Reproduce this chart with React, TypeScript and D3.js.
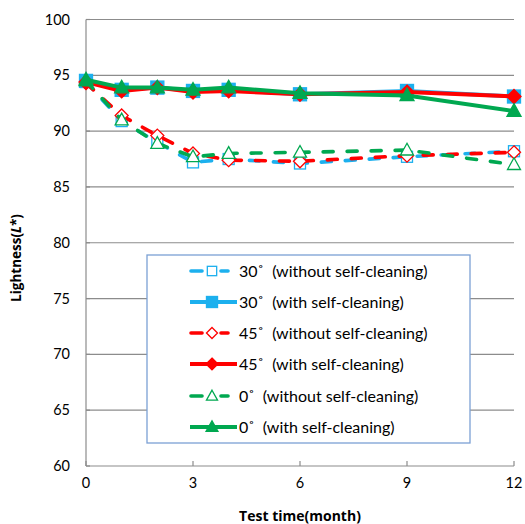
import React from "react";
import * as d3 from "d3";

const months = [0, 1, 2, 3, 4, 6, 9, 12];
const xTicks = [0, 3, 6, 9, 12];
const yTicks = [60, 65, 70, 75, 80, 85, 90, 95, 100];

const s30without = [94.4, 90.9, 89.0, 87.2, 87.5, 87.1, 87.7, 88.2];
const s30with = [94.5, 93.7, 93.9, 93.6, 93.7, 93.3, 93.6, 93.1];
const s45without = [94.3, 91.4, 89.6, 88.0, 87.4, 87.3, 87.8, 88.1];
const s45with = [94.4, 93.6, 93.9, 93.5, 93.6, 93.3, 93.5, 93.1];
const s0without = [94.5, 91.0, 88.9, 87.7, 88.0, 88.1, 88.3, 87.0];
const s0with = [94.6, 93.9, 93.9, 93.7, 93.9, 93.4, 93.2, 91.8];

const seriesNames = [
  "30˚  (without self-cleaning)",
  "30˚  (with self-cleaning)",
  "45˚  (without self-cleaning)",
  "45˚  (with self-cleaning)",
  "0˚  (without self-cleaning)",
  "0˚  (with self-cleaning)",
];

const BLUE = "#1CB0EE";
const RED = "#FF0000";
const GREEN = "#00A850";

type Series = { name: string; values: number[]; color: string; dashed: boolean; marker: string; filled: boolean };

const series: Series[] = [
  { name: seriesNames[0], values: s30without, color: BLUE, dashed: true, marker: "square", filled: false },
  { name: seriesNames[1], values: s30with, color: BLUE, dashed: false, marker: "square", filled: true },
  { name: seriesNames[2], values: s45without, color: RED, dashed: true, marker: "diamond", filled: false },
  { name: seriesNames[3], values: s45with, color: RED, dashed: false, marker: "diamond", filled: true },
  { name: seriesNames[4], values: s0without, color: GREEN, dashed: true, marker: "triangle", filled: false },
  { name: seriesNames[5], values: s0with, color: GREEN, dashed: false, marker: "triangle", filled: true },
];

const FONT = "Lato, 'Open Sans', sans-serif";
const TFONT = "'Open Sans', Lato, sans-serif";

function Marker({ s, x, y, legend }: { s: Series; x: number; y: number; legend?: boolean }) {
  const fill = s.filled ? s.color : "#fff";
  const k = legend ? 0.85 : 1;
  if (s.marker === "square") {
    const h = (s.filled ? 6.5 : 5.5) * k;
    return <rect x={x - h} y={y - h} width={2 * h} height={2 * h} fill={fill} stroke={s.color} strokeWidth={1.3} />;
  }
  if (s.marker === "diamond") {
    const h = (s.filled ? 7 : 6.5) * k;
    return (
      <path d={`M${x},${y - h}L${x + h},${y}L${x},${y + h}L${x - h},${y}Z`} fill={fill} stroke={s.color} strokeWidth={1.3} />
    );
  }
  const h = (s.filled ? 7 : 6.5) * k;
  return (
    <path
      d={`M${x},${y - h * 1.05}L${x + h},${y + h * 0.75}L${x - h},${y + h * 0.75}Z`}
      fill={fill}
      stroke={s.color}
      strokeWidth={1.3}
    />
  );
}

export default function App() {
  const W = 525;
  const H = 524;
  const x = d3.scaleLinear().domain([0, 12]).range([86, 514]);
  const y = d3.scaleLinear().domain([60, 100]).range([466, 19.5]);
  const line = d3
    .line<number>()
    .x((_, i) => x(months[i]))
    .y((d) => y(d));

  const legX = 147;
  const legY = 255;
  const legW = 323;
  const legH = 188;
  const rowY = [271, 302, 333, 364, 396, 427];

  return (
    <svg width={W} height={H} style={{ position: "absolute", left: 0, top: 0 }} fontFamily={FONT}>
      <rect width={W} height={H} fill="#fff" />
      {yTicks
        .filter((t) => t > 60)
        .map((t) => (
          <line key={t} x1={x(0)} x2={x(12)} y1={y(t)} y2={y(t)} stroke="#8C8C8C" strokeWidth={1.2} />
        ))}
      <line x1={x(0)} x2={x(0)} y1={y(100)} y2={y(60)} stroke="#8C8C8C" strokeWidth={1.2} />
      <line x1={x(0)} x2={x(12)} y1={y(60)} y2={y(60)} stroke="#8C8C8C" strokeWidth={1.2} />
      {yTicks.map((t) => (
        <line key={"yt" + t} x1={x(0)} x2={x(0) + 4} y1={y(t)} y2={y(t)} stroke="#8C8C8C" strokeWidth={1.2} />
      ))}
      {xTicks.map((t) => (
        <line key={"xt" + t} x1={x(t)} x2={x(t)} y1={y(60)} y2={y(60) - 5} stroke="#8C8C8C" strokeWidth={1.2} />
      ))}
      {yTicks.map((t) => (
        <text key={"yl" + t} x={70} y={y(t)} dy="0.35em" textAnchor="end" fontSize={14.5} fill="#000">
          {t}
        </text>
      ))}
      {xTicks.map((t) => (
        <text key={"xl" + t} x={x(t)} y={488} textAnchor="middle" fontSize={14.5} fill="#000">
          {t}
        </text>
      ))}
      <text x={300} y={521} textAnchor="middle" fontSize={14} fontWeight="bold" fontFamily={TFONT}>
        Test time(month)
      </text>
      <text
        transform="translate(21,258) rotate(-90)"
        textAnchor="middle"
        fontSize={13.5}
        fontWeight="bold"
        fontFamily={TFONT}
      >
        Lightness(<tspan fontStyle="italic">L</tspan>*)
      </text>

      {series.map((s, i) => (
        <g key={"s" + i}>
          <path
            d={line(s.values) || ""}
            fill="none"
            stroke={s.color}
            strokeWidth={s.dashed ? 3.6 : 4}
            strokeDasharray={s.dashed ? "10 14" : undefined}
            strokeLinecap={s.dashed ? "round" : "butt"}
            strokeLinejoin="round"
          />
          {s.values.map((v, j) => (
            <Marker key={j} s={s} x={x(months[j])} y={y(v)} />
          ))}
        </g>
      ))}

      <rect x={legX} y={legY} width={legW} height={legH} fill="#fff" stroke="#7BA0D4" strokeWidth={1.3} />
      {series.map((s, i) => (
        <g key={"l" + i}>
          {s.dashed ? (
            <>
              <line x1={191} x2={202} y1={rowY[i]} y2={rowY[i]} stroke={s.color} strokeWidth={3.6} strokeLinecap="round" />
              <line x1={221} x2={228} y1={rowY[i]} y2={rowY[i]} stroke={s.color} strokeWidth={3.6} strokeLinecap="round" />
            </>
          ) : (
            <line x1={190} x2={237} y1={rowY[i]} y2={rowY[i]} stroke={s.color} strokeWidth={4} />
          )}
          <Marker s={s} x={212} y={rowY[i]} legend />
          <text x={239} y={rowY[i]} dy="0.35em" fontSize={16} fill="#000" style={{ whiteSpace: "pre" }}>
            {s.name}
          </text>
        </g>
      ))}
    </svg>
  );
}
